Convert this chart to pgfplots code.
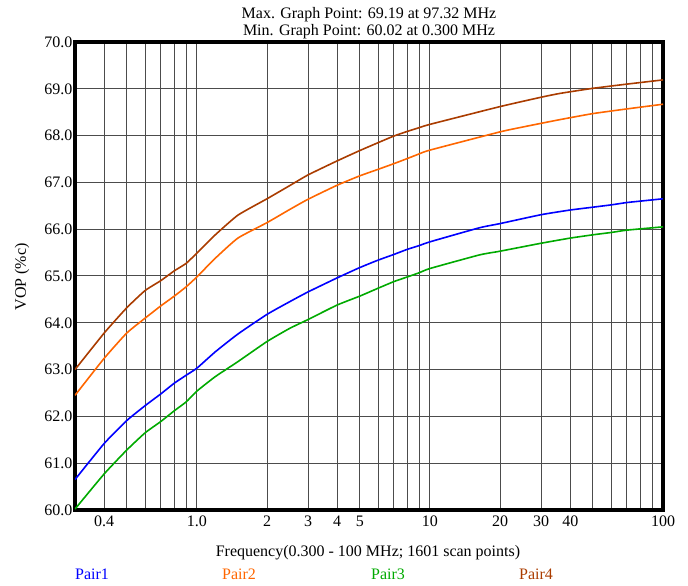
\documentclass[border=0pt]{standalone}
\usepackage{pgfplots}
\pgfplotsset{compat=1.18}
\usepackage{fontspec}
\setmainfont{Liberation Serif}
\definecolor{cBlue}{RGB}{0,0,255}
\definecolor{cOrange}{RGB}{255,102,0}
\definecolor{cGreen}{RGB}{0,170,0}
\definecolor{cBrown}{RGB}{170,60,0}
\begin{document}
\begin{tikzpicture}
\begin{axis}[
  at={(0,0)}, anchor=south west,
  scale only axis, width=588pt, height=468pt,
  xmode=log, xmin=0.3, xmax=100, ymin=60, ymax=70,
  xtick={0.4,0.5,0.6,0.7,0.8,0.9,1,2,3,4,5,6,7,8,9,10,20,30,40,50,60,70,80,90,100},
  xticklabels={0.4,,,,,,1.0,2,3,4,5,,,,,10,20,30,40,,,,,,100},
  minor xtick={},
  ytick={60,61,62,63,64,65,66,67,68,69,70},
  yticklabels={60.0,61.0,62.0,63.0,64.0,65.0,66.0,67.0,68.0,69.0,70.0},
  xmajorgrids, ymajorgrids,
  major grid style={black!70, line width=1pt},
  major tick length=0pt,
  axis line style={line width=4.7pt},
  tick label style={font=\fontsize{16}{17}\selectfont},
  xticklabel style={inner sep=1pt, yshift=-5pt},
  yticklabel style={inner sep=1pt, xshift=-1.5pt},
  clip=true,
  every axis plot/.append style={line width=1.6pt, smooth, tension=0.3},
]
% Pair1
\addplot[cBlue] coordinates {
(0.3,60.65) (0.4,61.42) (0.5,61.91) (0.6,62.23) (0.7,62.48) (0.8,62.71) (0.9,62.88) (1.0,63.03)
(1.2,63.38) (1.5,63.76) (2.0,64.18) (2.5,64.45) (3.0,64.66) (4,64.96) (5,65.18) (6,65.34) (7,65.46)
(8,65.57) (9,65.65) (10,65.73) (16.3,66.03) (20,66.12) (30,66.31) (40,66.41) (50,66.47) (60,66.52) (70,66.57) (80,66.60) (100,66.65)};
% Pair2
\addplot[cOrange] coordinates {
(0.3,62.45) (0.4,63.24) (0.5,63.78) (0.6,64.10) (0.7,64.36) (0.8,64.57) (0.9,64.77) (1.0,64.98)
(1.2,65.38) (1.5,65.81) (2.0,66.14) (2.5,66.42) (3.0,66.64) (4,66.94) (5,67.14) (6,67.28) (7,67.40)
(8,67.51) (9,67.61) (10,67.69) (20,68.08) (26,68.20) (36,68.34) (50,68.47) (70,68.57) (100,68.67)};
% Pair3
\addplot[cGreen] coordinates {
(0.3,60.02) (0.4,60.77) (0.5,61.28) (0.6,61.65) (0.7,61.89) (0.8,62.12) (0.9,62.31) (1.0,62.54)
(1.2,62.85) (1.5,63.17) (2.0,63.60) (2.5,63.88) (3.0,64.07) (4,64.38) (5,64.57) (6,64.74) (7,64.88)
(8,64.98) (9,65.07) (10,65.16) (16.3,65.45) (20,65.53) (30,65.70) (40,65.81) (50,65.88) (60,65.93) (70,65.98) (100,66.05)};
% Pair4
\addplot[cBrown] coordinates {
(0.3,63.00) (0.4,63.78) (0.5,64.32) (0.6,64.69) (0.7,64.90) (0.8,65.11) (0.9,65.27) (1.0,65.49)
(1.2,65.88) (1.5,66.30) (2.0,66.65) (2.5,66.93) (3.0,67.16) (4,67.46) (5,67.68) (6,67.85) (7,67.99)
(8,68.09) (9,68.17) (10,68.24) (20,68.62) (30,68.82) (36,68.90) (50,69.01) (70,69.10) (100,69.19)};
\end{axis}
\node[align=center, anchor=south, inner sep=0pt, font=\fontsize{16}{17}\selectfont] at (294pt,471pt)
  {Max. Graph Point: 69.19 at 97.32 MHz\\Min. Graph Point: 60.02 at 0.300 MHz};
\node[rotate=90, font=\fontsize{16}{17}\selectfont] at (-53pt,233pt) {VOP (\%c)};
\node[font=\fontsize{16}{17}\selectfont] at (293pt,-43pt) {Frequency(0.300 - 100 MHz; 1601 scan points)};
\node[anchor=west, inner sep=0pt, text=cBlue, font=\fontsize{16}{17}\selectfont] at (0pt,-64pt) {Pair1};
\node[anchor=west, inner sep=0pt, text=cOrange, font=\fontsize{16}{17}\selectfont] at (147pt,-64pt) {Pair2};
\node[anchor=west, inner sep=0pt, text=cGreen, font=\fontsize{16}{17}\selectfont] at (296pt,-64pt) {Pair3};
\node[anchor=west, inner sep=0pt, text=cBrown, font=\fontsize{16}{17}\selectfont] at (444pt,-64pt) {Pair4};
\pgfresetboundingbox
\useasboundingbox (-75pt,-76pt) rectangle (613pt,510pt);
\end{tikzpicture}
\end{document}
